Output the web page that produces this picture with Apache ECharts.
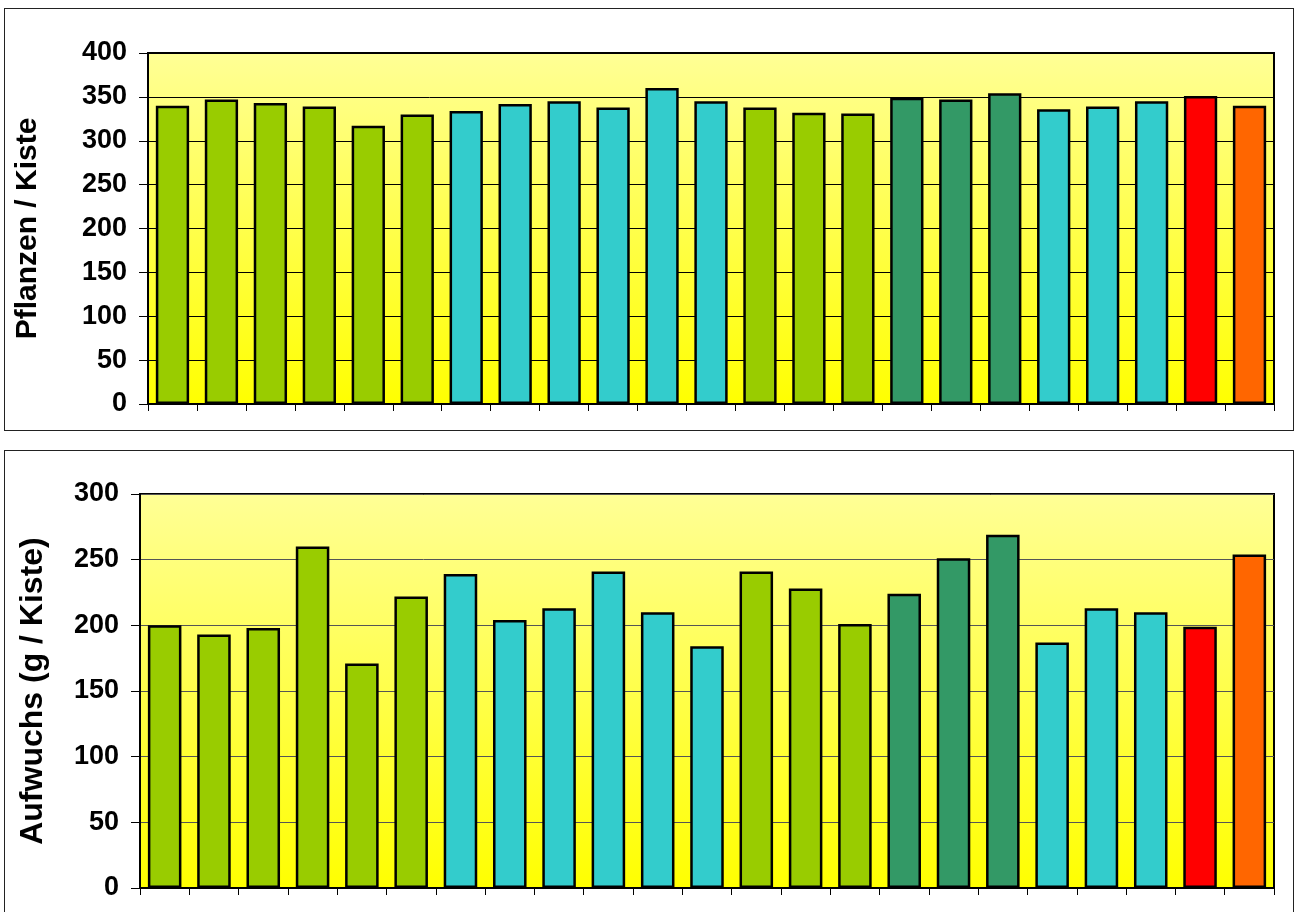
<!DOCTYPE html>
<html><head><meta charset="utf-8">
<script src="https://cdn.jsdelivr.net/npm/echarts@6/dist/echarts.min.js"></script>
<style>
html,body{margin:0;padding:0;overflow:hidden;background:#fff;width:1295px;height:912px}
#p1{position:absolute;left:4px;top:8px;width:1288px;height:421px;border:1px solid #222;}
#p2{position:absolute;left:4px;top:450px;width:1288px;height:480px;border:1px solid #222;}
#chart{position:absolute;left:0;top:0;width:1295px;height:912px}
</style></head><body>
<div id="p1"></div><div id="p2"></div><div id="chart"></div>
<script>
// ---- data ----
const categories = ['1','2','3','4','5','6','7','8','9','10','11','12','13','14','15','16','17','18','19','20','21','22','23'];
const categoryGroup = ['A','A','A','A','A','A','B','B','B','B','B','B','A','A','A','C','C','C','B','B','B','D','E'];
const plantsPerBox = [340,347,343,339,317,330,334,342,345,338,360,345,338,332,331,349,347,354,336,339,345,351,340];
const growthPerBox = [200,193,198,260,171,222,239,204,213,241,210,184,241,228,201,224,251,269,187,213,210,199,254];
const topTicks = {min:0, max:400, interval:50};
const bottomTicks = {min:0, max:300, interval:50};
const topAxisName = 'Pflanzen / Kiste';
const bottomAxisName = 'Aufwuchs (g / Kiste)';

// ---- styles ----
const groupColors = {A:'#99CC00', B:'#33CCCC', C:'#339966', D:'#FF0000', E:'#FF6600'};
const FONT = '"Liberation Sans", Arial, sans-serif';
const bg = new echarts.graphic.LinearGradient(0,0,0,1,[{offset:0,color:'#FFFF96'},{offset:1,color:'#FFFF00'}]);
const bg2 = new echarts.graphic.LinearGradient(0,0,0,1,[{offset:0,color:'#FFFF96'},{offset:1,color:'#FFFF00'}]);

function barData(values){
  return values.map((v,i)=>({value:v, itemStyle:{color:groupColors[categoryGroup[i]]}}));
}
function yAxis(idx, t, name, nameSize, gap, gridColor){
  return {
    type:'value', gridIndex:idx, min:t.min, max:t.max, interval:t.interval,
    name:name, nameLocation:'middle', nameRotate:90, nameGap:gap,
    nameTextStyle:{fontFamily:FONT, fontWeight:'bold', fontSize:nameSize, color:'#000'},
    axisLine:{show:true, lineStyle:{color:'#000', width:2}},
    axisTick:{show:true, length:9, lineStyle:{color:'#000', width:1}},
    axisLabel:{margin:21, fontFamily:FONT, fontWeight:'bold', fontSize:27, color:'#000'},
    splitLine:{show:true, lineStyle:{color:gridColor, width:1}}
  };
}
function xAxis(idx){
  return {
    type:'category', gridIndex:idx, data:categories,
    axisLine:{show:true, lineStyle:{color:'#000', width:2}},
    axisTick:{show:true, length:7, interval:0, lineStyle:{color:'#000', width:1}},
    axisLabel:{show:false}
  };
}
const chart = echarts.init(document.getElementById('chart'), null, {renderer:'canvas'});
chart.setOption({
  animation:false,
  grid:[
    {left:148, right:21, top:53, bottom:508, show:true, backgroundColor:bg, borderColor:'#000', borderWidth:2},
    {left:140, right:21, top:494, bottom:24, show:true, backgroundColor:bg2, borderColor:'#000', borderWidth:2}
  ],
  xAxis:[xAxis(0), xAxis(1)],
  yAxis:[yAxis(0, topTicks, topAxisName, 30, 105, '#000'), yAxis(1, bottomTicks, bottomAxisName, 32, 91, '#555')],
  series:[
    {type:'bar', xAxisIndex:0, yAxisIndex:0, data:barData(plantsPerBox), barWidth:'68%',
     itemStyle:{borderColor:'#000', borderWidth:2.5}},
    {type:'bar', xAxisIndex:1, yAxisIndex:1, data:barData(growthPerBox), barWidth:'68%',
     itemStyle:{borderColor:'#000', borderWidth:2.5}}
  ]
});
</script></body></html>
